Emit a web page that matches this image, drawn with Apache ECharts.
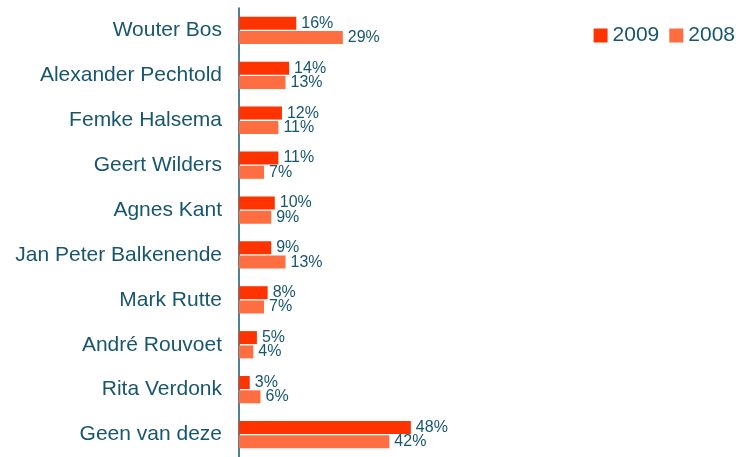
<!DOCTYPE html>
<html>
<head>
<meta charset="utf-8">
<script src="https://cdn.jsdelivr.net/npm/echarts@6/dist/echarts.min.js"></script>
<style>
  html, body { margin: 0; padding: 0; background: #fff; }
  #chart { width: 741px; height: 457px; }
</style>
</head>
<body>
<div id="chart"></div>
<script>
var names = ["Wouter Bos", "Alexander Pechtold", "Femke Halsema", "Geert Wilders", "Agnes Kant",
  "Jan Peter Balkenende", "Mark Rutte", "André Rouvoet", "Rita Verdonk", "Geen van deze"];
var v2009 = [16, 14, 12, 11, 10, 9, 8, 5, 3, 48];
var v2008 = [29, 13, 11, 7, 9, 13, 7, 4, 6, 42];

var textColor = "#17566E";
var font = "Liberation Sans, Arial, sans-serif";

var myChart = echarts.init(document.getElementById("chart"));

function barLabel() {
  return { show: true, position: "right", distance: 5, formatter: "{c}%", color: textColor, fontSize: 16, fontFamily: font };
}

option = {
  animation: false,
  legend: {
    right: 1, top: 20,
    itemWidth: 14, itemHeight: 14, itemGap: 10,
    icon: "rect",
    textStyle: { color: textColor, fontSize: 21, fontFamily: font },
    data: ["2009", "2008"]
  },
  grid: { left: 239, top: 8, width: 358, height: 450, containLabel: false },
  xAxis: { type: "value", min: 0, max: 100, show: false },
  yAxis: {
    type: "category", data: names, inverse: true,
    axisLine: { show: true, lineStyle: { color: textColor, width: 1.5 } },
    axisTick: { show: false },
    axisLabel: { color: textColor, fontSize: 21, fontFamily: font, margin: 17, padding: [4, 0, 0, 0] }
  },
  series: [
    { name: "2009", type: "bar", data: v2009, barWidth: 13, barGap: "10%", itemStyle: { color: "#FF3300" }, label: barLabel() },
    { name: "2008", type: "bar", data: v2008, barWidth: 13, barGap: "10%", itemStyle: { color: "#FF6E40" }, label: barLabel() }
  ]
};
myChart.setOption(option);
</script>
</body>
</html>
